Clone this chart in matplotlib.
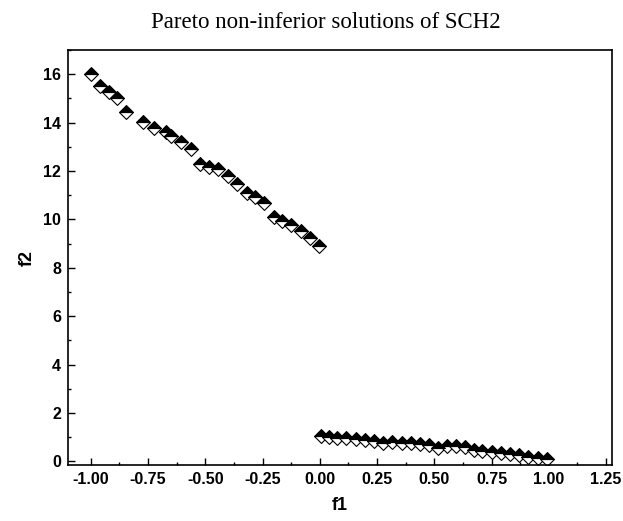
"""Pareto non-inferior solutions of SCH2 -> out.png"""

import matplotlib
matplotlib.use("Agg")
import matplotlib.pyplot as plt
from matplotlib.path import Path
from matplotlib.ticker import MultipleLocator

# ---------------------------------------------------------------------------
# Data
# ---------------------------------------------------------------------------
F1_LEFT = [-1.00, -0.96, -0.92, -0.885, -0.845, -0.77, -0.725, -0.67, -0.648,
           -0.605, -0.563, -0.524, -0.485, -0.445, -0.403, -0.361, -0.32,
           -0.284, -0.243, -0.20, -0.163, -0.124, -0.084, -0.044, -0.003]
F2_LEFT = [16.0, 15.52, 15.25, 15.0, 14.43, 14.04, 13.76, 13.62, 13.44,
           13.2, 12.9, 12.28, 12.16, 12.07, 11.8, 11.48, 11.09,
           10.93, 10.69, 10.1, 9.93, 9.75, 9.51, 9.24, 8.92]

F1_RIGHT = [0.005, 0.041, 0.077, 0.116, 0.157, 0.197, 0.236, 0.277, 0.317,
            0.357, 0.397, 0.437, 0.477, 0.517, 0.556, 0.594, 0.633, 0.672,
            0.710, 0.750, 0.790, 0.830, 0.870, 0.910, 0.951, 0.990]
F2_RIGHT = [1.05, 1.0, 0.98, 0.95, 0.92, 0.90, 0.83, 0.77, 0.79,
            0.76, 0.74, 0.73, 0.69, 0.57, 0.62, 0.62, 0.59, 0.48,
            0.43, 0.40, 0.34, 0.32, 0.28, 0.18, 0.14, 0.10]

TITLE = "Pareto non-inferior solutions of SCH2"

# half-diamond markers: black upper half, white lower half
UPPER = Path([(-1, 0), (0, 1), (1, 0), (-1, 0)],
             [Path.MOVETO, Path.LINETO, Path.LINETO, Path.CLOSEPOLY])
LOWER = Path([(-1, 0), (0, -1), (1, 0), (-1, 0)],
             [Path.MOVETO, Path.LINETO, Path.LINETO, Path.CLOSEPOLY])


def main():
    fig = plt.figure(figsize=(6.23, 5.21), dpi=100)
    fig.patch.set_facecolor("white")
    ax = fig.add_axes([0.109, 0.1075, 0.873, 0.7965])

    for xs, ys in [(F1_LEFT, F2_LEFT), (F1_RIGHT, F2_RIGHT)]:
        ax.plot(xs, ys, linestyle="none", marker=LOWER, markersize=10,
                markerfacecolor="white", markeredgecolor="black",
                markeredgewidth=0.8)
        ax.plot(xs, ys, linestyle="none", marker=UPPER, markersize=10,
                markerfacecolor="black", markeredgecolor="black",
                markeredgewidth=0.8)

    ax.set_xlim(-1.10, 1.275)
    ax.set_ylim(-0.15, 17.0)
    ax.xaxis.set_major_locator(MultipleLocator(0.25))
    ax.xaxis.set_minor_locator(MultipleLocator(0.125))
    ax.yaxis.set_major_locator(MultipleLocator(2))
    ax.yaxis.set_minor_locator(MultipleLocator(1))
    ax.xaxis.set_major_formatter(plt.FuncFormatter(lambda v, p: f"{v:.2f}"))

    ax.tick_params(which="both", direction="in", top=False, right=False,
                   width=1.0, color="black")
    ax.tick_params(which="major", length=5, labelsize=11.5, pad=5)
    ax.tick_params(which="minor", length=2.5)
    for lab in ax.get_xticklabels() + ax.get_yticklabels():
        lab.set_fontfamily("Liberation Sans")
        lab.set_fontweight("bold")
    for s in ax.spines.values():
        s.set_linewidth(1.2)

    ax.set_xlabel("f1", fontsize=13, fontweight="bold",
                  family="Liberation Sans", labelpad=7)
    ax.set_ylabel("f2", fontsize=13, fontweight="bold",
                  family="Liberation Sans", labelpad=5)

    fig.text(326 / 623, 1 - 22 / 521, TITLE, ha="center", va="center",
             fontsize=16.5, family="Liberation Serif")

    fig.savefig("out.png", dpi=100, facecolor="white")
    plt.close(fig)


if __name__ == "__main__":
    main()
